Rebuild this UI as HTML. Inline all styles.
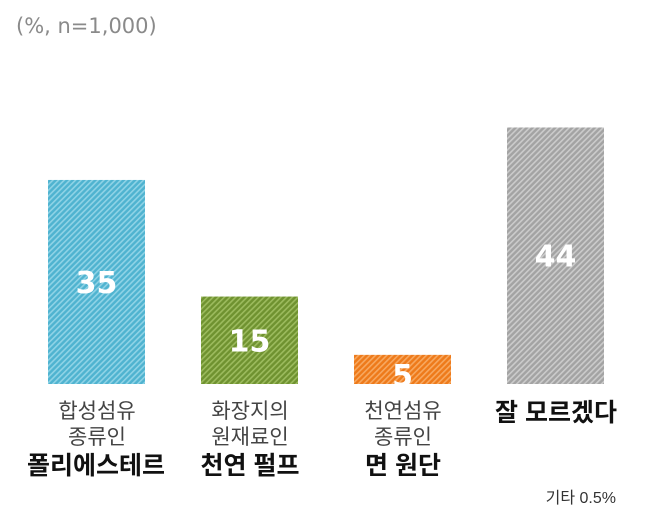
<!DOCTYPE html>
<html><head><meta charset="utf-8"><style>
body{margin:0;background:#fff;}
svg{display:block;font-family:"Liberation Sans","Noto Sans CJK KR",sans-serif;}
</style></head><body>
<svg id="chart" width="650" height="522" viewBox="0 0 650 522">
<defs>
<pattern id="p0" width="4" height="4" patternUnits="userSpaceOnUse" patternTransform="rotate(45)"><rect width="4" height="4" fill="#4fb3d0"/><rect width="1.6" height="4" fill="#8fd3e6"/></pattern>
<pattern id="p1" width="4" height="4" patternUnits="userSpaceOnUse" patternTransform="rotate(45)"><rect width="4" height="4" fill="#6f9230"/><rect width="1.6" height="4" fill="#9cbb5e"/></pattern>
<pattern id="p2" width="4" height="4" patternUnits="userSpaceOnUse" patternTransform="rotate(45)"><rect width="4" height="4" fill="#ee7a1a"/><rect width="1.6" height="4" fill="#f7a860"/></pattern>
<pattern id="p3" width="4" height="4" patternUnits="userSpaceOnUse" patternTransform="rotate(45)"><rect width="4" height="4" fill="#a3a3a3"/><rect width="1.6" height="4" fill="#cbcbcb"/></pattern>
<clipPath id="plotclip"><rect x="0" y="0" width="650" height="384"/></clipPath>
</defs>
<text x="16" y="33" font-size="21" fill="#8a8a8a" font-family="DejaVu Sans, sans-serif">(%, n=1,000)</text>
<g id="bars" clip-path="url(#plotclip)"></g>
<g text-anchor="middle">
<text x="97" y="418" font-size="21" fill="#444">합성섬유</text>
<text x="97" y="444" font-size="21" fill="#444">종류인</text>
<text x="96" y="474" font-size="25" font-weight="bold" fill="#111">폴리에스테르</text>
<text x="250" y="418" font-size="21" fill="#444">화장지의</text>
<text x="250" y="444" font-size="21" fill="#444">원재료인</text>
<text x="250" y="474" font-size="25" font-weight="bold" fill="#111">천연 펄프</text>
<text x="403" y="418" font-size="21" fill="#444">천연섬유</text>
<text x="403" y="444" font-size="21" fill="#444">종류인</text>
<text x="403" y="474" font-size="25" font-weight="bold" fill="#111">면 원단</text>
<text x="556" y="421" font-size="25" font-weight="bold" fill="#111">잘 모르겠다</text>
</g>
<text x="616" y="503" text-anchor="end" font-size="16" fill="#333">기타 0.5%</text>
</svg>
<script>
const categories=["폴리에스테르","천연 펄프","면 원단","잘 모르겠다"];
const values=[35,15,5,44];
const valueLabels=["35","15","5","44"];
const baseY=384, scale=5.83, barW=97, x0=48, step=153;
function y(v){return baseY-v*scale;}
function x(i){return x0+i*step;}
const g=document.getElementById('bars');
const ns="http://www.w3.org/2000/svg";
values.forEach((v,i)=>{
  const r=document.createElementNS(ns,'rect');
  
  
  r.setAttribute('x',x(i));r.setAttribute('y',y(v));
  r.setAttribute('width',barW);r.setAttribute('height',baseY-y(v));
  r.setAttribute('fill','url(#p'+i+')');
  g.appendChild(r);
  const t=document.createElementNS(ns,'text');
  
  
  t.setAttribute('x',x(i)+barW/2);
  const h=baseY-y(v);
  t.setAttribute('y',h<40?baseY+2:y(v)+h/2+11);
  t.setAttribute('text-anchor','middle');
  t.setAttribute('font-family','DejaVu Sans, sans-serif');
  t.setAttribute('font-size','30');t.setAttribute('font-weight','bold');t.setAttribute('fill','#fff');
  t.textContent=valueLabels[i];
  g.appendChild(t);
});
</script>
</body></html>
